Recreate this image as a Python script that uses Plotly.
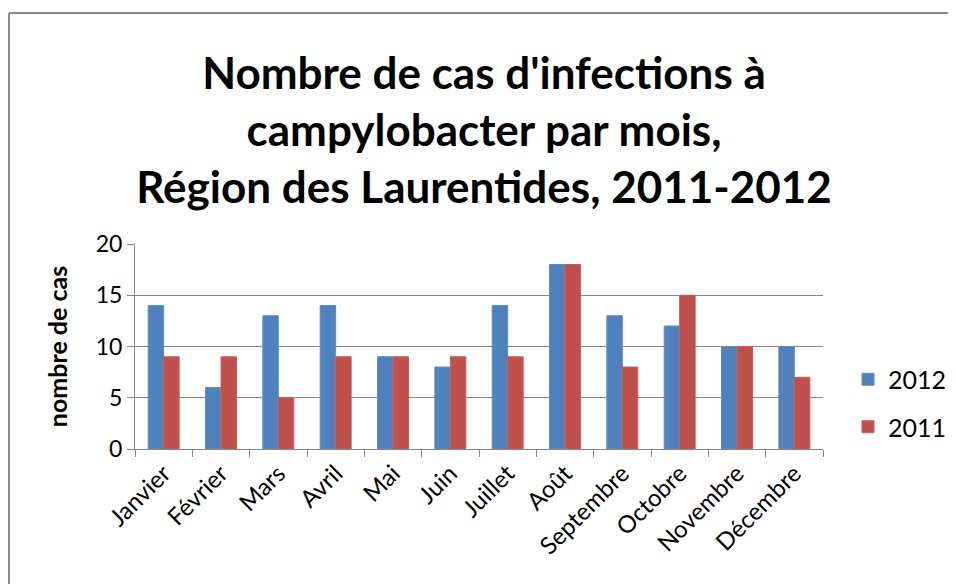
import plotly.graph_objects as go

months = ["Janvier", "Février", "Mars", "Avril", "Mai", "Juin", "Juillet",
          "Août", "Septembre", "Octobre", "Novembre", "Décembre"]
cases_2012 = [14, 6, 13, 14, 9, 8, 14, 18, 13, 12, 10, 10]
cases_2011 = [9, 9, 5, 9, 9, 9, 9, 18, 8, 15, 10, 7]

FONT = "Lato, 'Open Sans', sans-serif"

# page body has an 8px margin: figure drawn 8px smaller, coords shifted by -8
W, H = 948, 576
L, T = 127, 236
R, B = W - 815, H - 441
pw, ph = W - L - R, H - T - B

fig = go.Figure()
fig.add_trace(go.Bar(x=months, y=cases_2012, name="2012", legendgroup="a",
                     marker=dict(color="#4F81BD", line=dict(color="#5B8DC9", width=1))))
fig.add_trace(go.Bar(x=months, y=cases_2011, name="2011", legendgroup="b",
                     marker=dict(color="#C0504D", line=dict(color="#CC5C59", width=1))))

frame_x = (1 - L) / pw
frame_y = (441 - 5) / ph

fig.update_layout(
    width=W, height=H,
    margin=dict(l=L, r=R, t=T, b=B, pad=0, autoexpand=False),
    paper_bgcolor="white", plot_bgcolor="white",
    barmode="group", bargap=0.46, bargroupgap=0,
    font=dict(family=FONT, color="#000000"),
    title=dict(
        text="Nombre de cas d'infections à<br>campylobacter par mois,<br>Région des Laurentides, 2011-2012",
        font=dict(family=FONT, size=44, color="#000000", weight="bold"),
        x=476 / W, xanchor="center", xref="container",
        y=1 - 81 / H, yanchor="top", yref="container",
    ),
    legend=dict(
        x=(840 - L) / pw, xanchor="left",
        y=(441 - 395) / ph, yanchor="middle",
        font=dict(size=25, color="#000000"),
        tracegroupgap=12, itemwidth=30,
        bgcolor="rgba(0,0,0,0)",
    ),
    showlegend=True,
    shapes=[
        dict(type="line", xref="paper", yref="paper",
             x0=frame_x, x1=(1100 - L) / pw, y0=frame_y, y1=frame_y,
             line=dict(color="#8C8C8C", width=2), layer="below"),
        dict(type="line", xref="paper", yref="paper",
             x0=frame_x, x1=frame_x, y0=frame_y, y1=(441 - 700) / ph,
             line=dict(color="#8C8C8C", width=2), layer="below"),
    ],
)

fig.update_xaxes(
    type="category", tickangle=-45, automargin=False,
    tickfont=dict(size=24, color="#000000"),
    showline=True, linecolor="#868686", linewidth=1,
    ticks="outside", tickson="boundaries", ticklen=7, tickcolor="#868686",
    showgrid=False,
)
fig.update_yaxes(
    range=[0, 20], dtick=5, automargin=False,
    tickfont=dict(size=23, color="#000000"),
    showline=True, linecolor="#868686", linewidth=1,
    ticks="outside", ticklen=7, tickcolor="#868686",
    showgrid=True, gridcolor="#868686", gridwidth=1,
    zeroline=False,
    title=dict(text="nombre de cas", font=dict(size=25, color="#000000", weight="bold"), standoff=20),
)

fig.write_html("out.html")
